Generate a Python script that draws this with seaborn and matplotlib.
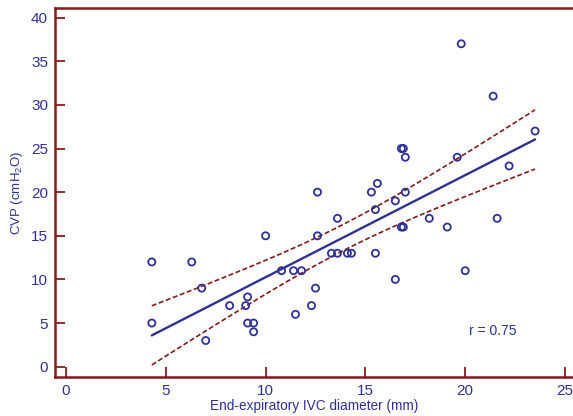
import numpy as np
import pandas as pd
import matplotlib
matplotlib.use("Agg")
import matplotlib.pyplot as plt
import seaborn as sns

# data
ivc_mm = [4.3, 4.3, 6.3, 6.8, 7.0, 8.2, 9.0, 9.1, 9.1, 9.4, 9.4, 10.0, 10.8, 11.4,
          11.8, 11.5, 12.3, 12.5, 12.6, 12.6, 13.3, 13.6, 13.6, 14.1, 14.3, 15.3,
          15.6, 15.5, 15.5, 16.5, 16.5, 17.0, 16.8, 16.9, 18.2, 19.1, 20.0, 21.6,
          19.8, 21.4, 23.5, 19.6, 22.2, 16.8, 16.9, 17.0]
cvp = [12, 5, 12, 9, 3, 7, 7, 8, 5, 5, 4, 15, 11, 11,
       11, 6, 7, 9, 15, 20, 13, 13, 17, 13, 13, 20,
       21, 18, 13, 19, 10, 20, 16, 16, 17, 16, 11, 17,
       37, 31, 27, 24, 23, 25, 25, 24]
r_text = "r = 0.75"

NAVY = "#2e3192"
DARKRED = "#821c1c"

sns.set_style("ticks")
plt.rcParams.update({
    "font.family": ["Liberation Sans", "DejaVu Sans"],
    "mathtext.fontset": "custom",
    "mathtext.rm": "Liberation Sans",
    "mathtext.it": "Liberation Sans:italic",
})

df = pd.DataFrame({"ivc": ivc_mm, "cvp": cvp})

# linear fit + 95% CI of the mean
x = df["ivc"].to_numpy()
y = df["cvp"].to_numpy()
n = len(x)
slope, intercept = np.polyfit(x, y, 1)
resid = y - (slope * x + intercept)
s = np.sqrt(np.sum(resid ** 2) / (n - 2))
t = 2.015  # t(0.975, df=44)
xs = np.linspace(x.min(), x.max(), 100)
fit = slope * xs + intercept
half = t * s * np.sqrt(1 / n + (xs - x.mean()) ** 2 / np.sum((x - x.mean()) ** 2))
band = pd.DataFrame({"x": xs, "fit": fit, "lo": fit - half, "hi": fit + half})

fig = plt.figure(figsize=(5.73, 4.16), dpi=100)
ax = fig.add_axes([55 / 573, 39 / 416, 518 / 573, 369 / 416])

sns.lineplot(data=band, x="x", y="hi", ax=ax, color=DARKRED, lw=1.2, ls=(0, (3, 1.5)))
sns.lineplot(data=band, x="x", y="lo", ax=ax, color=DARKRED, lw=1.2, ls=(0, (3, 1.5)))
sns.lineplot(data=band, x="x", y="fit", ax=ax, color=NAVY, lw=1.7)
sns.scatterplot(data=df, x="ivc", y="cvp", ax=ax, marker="o", s=26,
                facecolor="none", edgecolor=NAVY, linewidth=1.3, zorder=5)

ax.text(20.2, 4.1, r_text, color=NAVY, fontsize=10, va="center")

ax.set_xlim(-0.55, 25.4)
ax.set_ylim(-1.18, 41.1)
ax.set_xticks(range(0, 26, 5))
ax.set_yticks(range(0, 41, 5))
ax.tick_params(direction="in", length=7.5, width=1.3, color=DARKRED,
               labelcolor=NAVY, labelsize=11, pad=5)
ax.set_xlabel("End-expiratory IVC diameter (mm)", color=NAVY, fontsize=9.8, labelpad=1)
ax.set_ylabel("CVP (cmH$_2$O)", color=NAVY, fontsize=9.5, labelpad=4)

for side in ["left", "bottom", "top"]:
    ax.spines[side].set_color(DARKRED)
    ax.spines[side].set_linewidth(1.8)
ax.spines["right"].set_visible(False)

fig.savefig("out.png", dpi=100)
